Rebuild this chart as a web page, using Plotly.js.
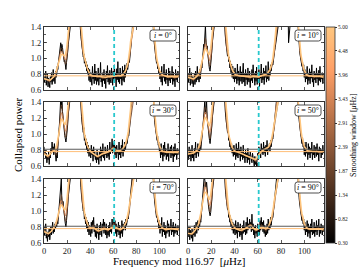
<!DOCTYPE html>
<html><head><meta charset="utf-8">
<script src="https://cdn.plot.ly/plotly-3.0.1.min.js"></script>
<style>html,body{margin:0;padding:0;background:#fff}#chart{width:360px;height:270px}</style>
</head><body><div id="chart"></div>
<script>
const freqMax = 116.97;
const freqStep = 0.5;

const p0 = [
  0.78,0.70,0.74,0.84,0.66,0.72,0.80,0.64,0.75,0.69,
  0.63,0.77,0.70,0.82,0.67,0.74,0.86,0.71,0.79,0.68,
  0.84,0.76,0.80,0.90,0.86,0.95,1.00,1.06,1.12,1.20,
  1.08,1.18,1.14,1.04,1.00,0.96,0.98,0.90,0.86,0.95,
  1.00,1.08,1.18,1.30,1.48,1.70,2.00,2.20,2.20,2.20,
  2.20,2.20,2.20,2.20,2.20,2.20,2.20,2.20,2.20,2.00,
  1.80,1.62,1.48,1.38,1.28,1.20,1.12,1.08,1.02,1.06,
  0.94,1.00,0.90,0.96,0.84,0.92,0.80,0.88,0.72,0.86,
  0.70,0.82,0.76,0.66,0.90,0.74,0.80,0.68,0.93,0.72,
  0.84,0.67,0.78,0.71,0.88,0.66,0.80,0.74,0.95,0.70,
  0.76,0.64,0.82,0.72,0.86,0.68,0.79,0.62,0.84,0.74,
  0.91,0.70,0.80,0.67,0.85,0.73,0.69,0.88,0.76,0.66,
  0.84,0.72,0.92,0.75,0.80,0.64,0.87,0.73,0.96,0.70,
  0.82,0.68,0.88,0.74,0.79,0.66,0.90,0.72,0.85,0.70,
  0.92,0.76,0.88,0.82,0.94,0.86,0.90,0.98,0.95,1.04,
  1.08,1.16,1.24,1.36,1.55,1.80,2.10,2.20,2.20,2.20,
  2.20,2.20,2.20,2.20,2.20,2.20,2.20,2.20,2.20,2.20,
  2.20,2.20,2.20,2.20,2.20,2.20,2.20,2.20,2.20,2.20,
  2.20,2.20,2.20,2.20,2.20,2.10,1.90,1.72,1.55,1.42,
  1.30,1.20,1.12,1.05,1.00,0.94,0.97,0.87,0.92,0.81,
  0.88,0.74,0.84,0.70,0.90,0.66,0.80,0.76,0.93,0.71,
  0.82,0.68,0.86,0.73,0.77,0.65,0.88,0.72,0.84,0.69,
  0.80,0.74,0.90,0.67,0.83,0.71,0.78,0.64,0.86,0.73,
  0.80,0.70,0.84,0.76];
const p10 = [
  0.80,0.70,0.76,0.88,0.66,0.74,0.82,0.68,0.77,0.64,
  0.72,0.80,0.67,0.84,0.70,0.76,0.90,0.73,0.82,0.70,
  0.86,0.74,0.82,0.92,0.88,1.00,1.06,1.18,1.15,1.30,
  1.42,1.20,1.10,1.16,1.04,0.96,0.92,0.86,0.84,0.92,
  0.98,1.10,1.22,1.38,1.55,1.80,2.05,2.20,2.20,2.20,
  2.20,2.20,2.20,2.20,2.20,2.20,2.20,2.20,2.20,2.05,
  1.85,1.68,1.52,1.40,1.30,1.22,1.14,1.08,1.03,1.10,
  0.96,1.02,0.88,0.97,0.82,0.93,0.76,0.90,0.74,0.85,
  0.70,0.88,0.74,0.82,0.68,0.93,0.72,0.84,0.66,0.79,
  0.90,0.71,0.83,0.68,0.76,0.94,0.70,0.80,0.65,0.86,
  0.73,0.81,0.67,0.88,0.74,0.70,0.84,0.63,0.79,0.72,
  0.86,0.69,0.92,0.75,0.80,0.66,0.84,0.71,0.89,0.67,
  0.78,0.70,0.86,0.64,0.82,0.75,0.93,0.69,0.80,0.73,
  0.88,0.67,0.84,0.76,0.91,0.70,0.82,0.74,0.96,0.72,
  0.86,0.78,0.92,0.84,0.88,0.95,0.92,1.02,1.00,1.10,
  1.14,1.22,1.32,1.45,1.65,1.90,2.15,2.20,2.20,2.20,
  2.20,2.20,2.20,2.20,2.20,2.20,2.20,2.20,2.20,2.20,
  2.20,2.20,1.50,1.20,1.60,2.20,2.20,2.20,2.20,2.20,
  2.20,2.20,2.20,2.20,2.15,2.00,1.85,1.68,1.52,1.40,
  1.28,1.18,1.10,1.04,0.99,0.95,0.90,0.96,0.84,0.92,
  0.76,0.86,0.70,0.82,0.74,0.90,0.67,0.80,0.72,0.87,
  0.68,0.83,0.75,0.92,0.70,0.79,0.64,0.84,0.73,0.81,
  0.69,0.88,0.74,0.80,0.66,0.85,0.72,0.90,0.70,0.78,
  0.74,0.82,0.68,0.80];
const p30 = [
  0.84,0.74,0.80,0.70,0.76,0.64,0.72,0.68,0.78,0.62,
  0.74,0.70,0.82,0.76,0.90,0.78,0.84,0.74,0.88,0.80,
  0.72,0.66,0.76,0.70,0.84,0.92,1.02,1.15,1.30,1.45,
  1.32,1.50,1.28,1.18,1.10,1.02,0.98,0.94,0.90,0.96,
  1.02,1.12,1.25,1.42,1.62,1.85,2.10,2.20,2.20,2.20,
  2.20,2.20,2.20,2.20,2.20,2.20,2.20,2.20,2.20,2.05,
  1.88,1.70,1.54,1.42,1.30,1.22,1.14,1.06,1.02,1.08,
  0.92,0.98,0.86,0.94,0.80,0.90,0.76,0.86,0.72,0.82,
  0.78,0.70,0.86,0.74,0.80,0.66,0.84,0.72,0.78,0.68,
  0.74,0.64,0.80,0.68,0.72,0.62,0.78,0.70,0.84,0.66,
  0.80,0.72,0.88,0.70,0.76,0.67,0.84,0.74,0.79,0.70,
  0.86,0.72,0.78,0.68,0.90,0.75,0.82,0.78,0.94,0.76,
  0.88,0.80,0.92,0.74,0.84,0.70,0.86,0.76,0.80,0.68,
  0.90,0.74,0.82,0.70,0.86,0.76,0.93,0.72,0.84,0.78,
  0.90,0.80,0.86,0.92,0.88,0.96,1.00,0.98,1.06,1.12,
  1.18,1.26,1.38,1.55,1.75,2.00,2.20,2.20,2.20,2.20,
  2.20,2.20,2.20,2.20,2.20,2.20,2.20,2.20,2.20,2.20,
  2.20,2.20,2.20,2.20,2.20,2.20,2.20,2.20,2.20,2.20,
  2.20,2.20,2.20,2.20,2.20,2.10,1.92,1.75,1.58,1.45,
  1.32,1.22,1.14,1.07,1.02,0.96,0.92,0.97,0.86,0.90,
  0.78,0.84,0.70,0.88,0.74,0.80,0.66,0.86,0.72,0.90,
  0.74,0.82,0.68,0.78,0.72,0.88,0.66,0.80,0.76,0.84,
  0.70,0.86,0.73,0.79,0.65,0.84,0.72,0.88,0.74,0.80,
  0.68,0.82,0.74,0.78];
const p50 = [
  0.76,0.68,0.84,0.72,0.80,0.66,0.74,0.86,0.70,0.78,
  0.66,0.82,0.74,0.90,0.70,0.80,0.76,0.88,0.72,0.84,
  0.78,0.86,0.80,0.92,0.96,1.04,1.12,1.28,1.36,1.42,
  1.25,1.34,1.40,1.20,1.10,1.00,0.96,0.92,0.88,0.94,
  1.00,1.10,1.22,1.38,1.58,1.82,2.08,2.20,2.20,2.20,
  2.20,2.20,2.20,2.20,2.20,2.20,2.20,2.20,2.20,2.05,
  1.86,1.70,1.53,1.41,1.30,1.21,1.13,1.07,1.02,1.06,
  0.92,0.97,0.84,0.92,0.80,0.88,0.76,0.84,0.72,0.86,
  0.74,0.80,0.68,0.88,0.72,0.82,0.70,0.90,0.74,0.80,
  0.66,0.84,0.72,0.78,0.68,0.86,0.70,0.76,0.64,0.80,
  0.70,0.76,0.64,0.82,0.68,0.74,0.62,0.78,0.70,0.72,
  0.64,0.76,0.68,0.70,0.60,0.72,0.62,0.66,0.60,0.70,
  0.76,0.68,0.84,0.74,0.80,0.70,0.88,0.76,0.82,0.74,
  0.90,0.76,0.84,0.72,0.86,0.78,0.92,0.74,0.84,0.80,
  0.88,0.78,0.92,0.84,0.90,0.96,0.94,1.02,1.04,1.10,
  1.16,1.24,1.34,1.48,1.68,1.92,2.15,2.20,2.20,2.20,
  2.20,2.20,2.20,2.20,2.20,2.20,2.20,2.20,2.20,2.20,
  2.20,2.20,2.20,2.20,2.20,2.20,2.20,2.20,2.20,2.20,
  2.20,2.20,2.20,2.20,2.15,2.00,1.82,1.66,1.52,1.40,
  1.28,1.18,1.10,1.04,0.98,0.94,0.88,0.96,0.84,0.90,
  0.74,0.86,0.72,0.90,0.76,0.80,0.68,0.88,0.74,0.84,
  0.70,0.82,0.76,0.90,0.68,0.80,0.74,0.86,0.70,0.78,
  0.84,0.72,0.88,0.74,0.80,0.66,0.84,0.76,0.82,0.70,
  0.80,0.74,0.86,0.76];
const p70 = [
  0.80,0.70,0.76,0.84,0.66,0.72,0.62,0.74,0.68,0.78,
  0.64,0.72,0.80,0.70,0.76,0.86,0.72,0.80,0.74,0.84,
  0.78,0.86,0.80,0.88,0.84,0.94,1.00,1.08,1.14,1.22,
  1.40,1.10,1.06,1.12,1.00,0.94,0.90,0.84,0.80,0.88,
  0.94,1.06,1.18,1.34,1.55,1.80,2.05,2.20,2.20,2.20,
  2.20,2.20,2.20,2.20,2.20,2.20,2.20,2.20,2.20,2.05,
  1.86,1.68,1.52,1.40,1.29,1.20,1.12,1.06,1.00,1.04,
  0.90,0.96,0.84,0.92,0.78,0.88,0.74,0.86,0.70,0.82,
  0.76,0.68,0.86,0.72,0.88,0.80,0.92,0.74,0.82,0.68,
  0.80,0.66,0.84,0.72,0.76,0.64,0.82,0.70,0.86,0.74,
  0.68,0.84,0.76,0.90,0.72,0.86,0.80,0.70,0.84,0.66,
  0.78,0.70,0.82,0.68,0.86,0.74,0.80,0.72,0.90,0.78,
  0.84,0.92,0.80,0.88,0.72,0.84,0.68,0.80,0.74,0.86,
  0.70,0.82,0.66,0.78,0.72,0.88,0.68,0.84,0.76,0.80,
  0.86,0.76,0.90,0.82,0.88,0.92,0.90,0.98,0.96,1.06,
  1.12,1.20,1.30,1.44,1.62,1.86,2.10,2.20,2.20,2.20,
  2.20,2.20,2.20,2.20,2.20,2.20,2.20,2.20,2.20,2.20,
  2.20,2.20,2.20,2.20,2.20,2.20,2.20,2.20,2.20,2.20,
  2.20,2.20,2.20,2.20,2.15,2.00,1.84,1.68,1.53,1.40,
  1.28,1.18,1.10,1.03,0.98,0.92,0.96,0.86,0.90,0.78,
  0.88,0.72,0.84,0.76,0.92,0.68,0.80,0.74,0.86,0.70,
  0.82,0.66,0.78,0.72,0.88,0.74,0.84,0.68,0.80,0.76,
  0.90,0.70,0.82,0.74,0.86,0.68,0.80,0.72,0.84,0.74,
  0.78,0.70,0.82,0.76];
const p90 = [
  0.74,0.68,0.80,0.64,0.76,0.70,0.66,0.78,0.62,0.74,
  0.70,0.82,0.68,0.76,0.86,0.72,0.80,0.88,0.76,0.84,
  0.80,0.90,0.86,0.96,1.02,1.10,1.20,1.32,1.45,1.38,
  1.34,1.30,1.36,1.22,1.16,1.08,1.02,0.96,0.94,0.98,
  1.04,1.14,1.26,1.42,1.62,1.86,2.10,2.20,2.20,2.20,
  2.20,2.20,2.20,2.20,2.20,2.20,2.20,2.20,2.20,2.05,
  1.86,1.68,1.52,1.40,1.30,1.21,1.13,1.07,1.02,1.05,
  0.92,0.98,0.86,0.94,0.80,0.90,0.76,0.86,0.72,0.84,
  0.78,0.70,0.88,0.72,0.82,0.66,0.86,0.74,0.80,0.68,
  0.84,0.70,0.78,0.64,0.82,0.72,0.88,0.74,0.80,0.70,
  0.86,0.72,0.92,0.76,0.84,0.78,0.90,0.80,0.86,0.74,
  0.96,0.76,0.84,0.70,0.80,0.66,0.82,0.72,0.78,0.68,
  0.84,0.74,0.80,0.70,0.88,0.76,0.92,0.78,0.86,0.74,
  0.88,0.72,0.82,0.68,0.76,0.70,0.84,0.72,0.90,0.76,
  0.84,0.78,0.92,0.82,0.88,0.94,0.92,1.00,1.02,1.08,
  1.14,1.22,1.32,1.46,1.66,1.90,2.15,2.20,2.20,2.20,
  2.20,2.20,2.20,2.20,2.20,2.20,2.20,2.20,2.20,2.20,
  2.20,2.20,2.20,2.20,2.20,2.20,2.20,2.20,2.20,2.20,
  2.20,2.20,2.20,2.20,2.15,2.00,1.84,1.67,1.52,1.40,
  1.28,1.17,1.10,1.03,0.98,0.94,0.88,0.95,0.84,0.90,
  0.76,0.86,0.70,0.82,0.74,0.88,0.68,0.84,0.72,0.80,
  0.66,0.84,0.74,0.90,0.70,0.78,0.72,0.86,0.68,0.80,
  0.74,0.88,0.70,0.82,0.76,0.90,0.68,0.80,0.72,0.84,
  0.76,0.70,0.82,0.74];

const panelData = [p0, p10, p30, p50, p70, p90];
const panelLabels = ['0°', '10°', '30°', '50°', '70°', '90°'];
const windows = [0.30, 1.87, 3.43, 5.00];
const cbTicks = [0.30, 0.82, 1.34, 1.87, 2.39, 2.91, 3.43, 3.96, 4.48, 5.00];
const grayLevel = 0.81;
const orangeLevel = 0.78;
const dashedFreq = 60.8;
const xTicks = [0, 20, 40, 60, 80, 100];
const yTicks = [0.6, 0.8, 1.0, 1.2, 1.4];

const FONT = 'Liberation Serif, serif';

function smooth(arr, w) {
  if (w <= 0.3) return arr.slice();
  const s = (w / 2.5) / freqStep, R = Math.ceil(3 * s);
  return arr.map((_, i) => {
    let sw = 0, sv = 0;
    for (let k = -R; k <= R; k++) {
      const j = i + k;
      if (j < 0 || j >= arr.length) continue;
      const g = Math.exp(-0.5 * (k / s) * (k / s));
      sw += g; sv += g * arr[j];
    }
    return sv / sw;
  });
}
function copper(w) {
  const t = (w - 0.3) / 4.7;
  return `rgb(${Math.round(Math.min(1, 1.25 * t) * 255)},${Math.round(0.7812 * t * 255)},${Math.round(0.4975 * t * 255)})`;
}

const W = 360, H = 270;
const colDom = [[44 / W, 179 / W], [188 / W, 324 / W]];
const rowDom = [[1 - 90 / H, 1 - 27 / H], [1 - 166 / H, 1 - 102 / H], [1 - 243 / H, 1 - 179 / H]];
const lineWidths = [1.0, 0.8, 0.9, 1.5];

// rounded label box (pixels, relative to the panel's top-right corner; y up)
const bx0 = -29, bx1 = -3, by0 = -3, by1 = -14, br = 2.5;
const boxPath = `M ${bx0 + br},${by0} L ${bx1 - br},${by0} Q ${bx1},${by0} ${bx1},${by0 - br} ` +
  `L ${bx1},${by1 + br} Q ${bx1},${by1} ${bx1 - br},${by1} L ${bx0 + br},${by1} ` +
  `Q ${bx0},${by1} ${bx0},${by1 + br} L ${bx0},${by0 - br} Q ${bx0},${by0} ${bx0 + br},${by0} Z`;

const traces = [];
const layout = {
  width: W, height: H, margin: {l: 0, r: 0, t: 0, b: 0},
  paper_bgcolor: '#fff', plot_bgcolor: '#fff', showlegend: false,
  font: {family: FONT, color: '#000'},
  annotations: [], shapes: []
};

for (let p = 0; p < 6; p++) {
  const row = Math.floor(p / 2), col = p % 2;
  const n = p + 1, sfx = n === 1 ? '' : String(n);
  const xa = 'x' + sfx, ya = 'y' + sfx;
  const data = panelData[p];
  const freq = data.map((_, k) => k * freqStep);
  windows.forEach((w, wi) => {
    traces.push({x: freq, y: smooth(data, w), xaxis: xa, yaxis: ya, mode: 'lines',
      line: {color: copper(w), width: lineWidths[wi]}, hoverinfo: 'skip'});
  });
  traces.push({x: [0, freqMax], y: [grayLevel, grayLevel], xaxis: xa, yaxis: ya, mode: 'lines',
    line: {color: '#5a5a5a', width: 1.1}, hoverinfo: 'skip'});
  traces.push({x: [0, freqMax], y: [orangeLevel, orangeLevel], xaxis: xa, yaxis: ya, mode: 'lines',
    line: {color: 'rgb(255,190,120)', width: 1}, hoverinfo: 'skip'});
  traces.push({x: [dashedFreq, dashedFreq], y: [0.6, 1.4], xaxis: xa, yaxis: ya, mode: 'lines',
    line: {color: 'rgb(40,200,205)', width: 1.8, dash: '4px,3px'}, hoverinfo: 'skip'});

  const axCommon = {showline: true, mirror: 'allticks', linecolor: '#333', linewidth: 1,
    ticks: 'inside', ticklen: 3, tickwidth: 0.8, tickcolor: '#333', showgrid: false, zeroline: false,
    tickfont: {family: FONT, size: 8.5, color: '#222'}};
  layout['xaxis' + sfx] = Object.assign({}, axCommon, {domain: colDom[col], anchor: ya,
    range: [0, freqMax], tickvals: xTicks, showticklabels: row === 2});
  layout['yaxis' + sfx] = Object.assign({}, axCommon, {domain: rowDom[row], anchor: xa,
    range: [0.6, 1.4], tickvals: yTicks, ticktext: yTicks.map(v => v.toFixed(1)), showticklabels: col === 0,
    minor: {ticks: 'inside', ticklen: 1.5, tickcolor: '#333', dtick: 0.1, tick0: 0.6}});
  layout.shapes.push({type: 'path', xref: xa + ' domain', yref: ya + ' domain',
    xsizemode: 'pixel', ysizemode: 'pixel', xanchor: 1, yanchor: 1, path: boxPath,
    fillcolor: '#fff', line: {color: '#222', width: 0.8}, layer: 'above'});
  layout.annotations.push({xref: xa + ' domain', yref: ya + ' domain', x: 1, y: 1,
    xshift: (bx0 + bx1) / 2, yshift: (by0 + by1) / 2,
    xanchor: 'center', yanchor: 'middle', showarrow: false,
    text: '<i>i</i> = ' + panelLabels[p], font: {family: FONT, size: 8, color: '#000'}});
}

// colorbar carrier
traces.push({x: [-50], y: [0], xaxis: 'x', yaxis: 'y', mode: 'markers', hoverinfo: 'skip',
  marker: {size: 1, color: [0.3], cmin: 0.3, cmax: 5,
    colorscale: [[0, 'rgb(0,0,0)'], [0.8, 'rgb(255,159,102)'], [1, 'rgb(255,199,127)']],
    showscale: true,
    colorbar: {x: 326 / W, xanchor: 'left', y: 1 - 27 / H, yanchor: 'top', len: 216 / H, lenmode: 'fraction',
      thickness: 9, thicknessmode: 'pixels', outlinewidth: 0.8, outlinecolor: '#333', xpad: 0, ypad: 0,
      tickvals: cbTicks, ticktext: cbTicks.map(v => v.toFixed(2)), ticks: 'outside', ticklen: 2,
      tickcolor: '#333', tickfont: {family: FONT, size: 5.5, color: '#222'}}}});

layout.annotations.push({xref: 'paper', yref: 'paper', x: 18 / W, y: 0.5, xanchor: 'center', yanchor: 'middle',
  textangle: -90, showarrow: false,
  text: 'Collapsed power', font: {family: FONT, size: 11, color: '#000'}});
layout.annotations.push({xref: 'paper', yref: 'paper', x: 179 / W, y: 1 - 261 / H, xanchor: 'center', yanchor: 'middle',
  showarrow: false,
  text: 'Frequency mod 116.97  [<i>μ</i>Hz]', font: {family: FONT, size: 11, color: '#000'}});
layout.annotations.push({xref: 'paper', yref: 'paper', x: 353 / W, y: 0.5, xanchor: 'center', yanchor: 'middle',
  textangle: -90, showarrow: false,
  text: 'Smoothing window [<i>μ</i>Hz]', font: {family: FONT, size: 8, color: '#000'}});

Plotly.newPlot('chart', traces, layout, {staticPlot: true, displayModeBar: false});
</script></body></html>
